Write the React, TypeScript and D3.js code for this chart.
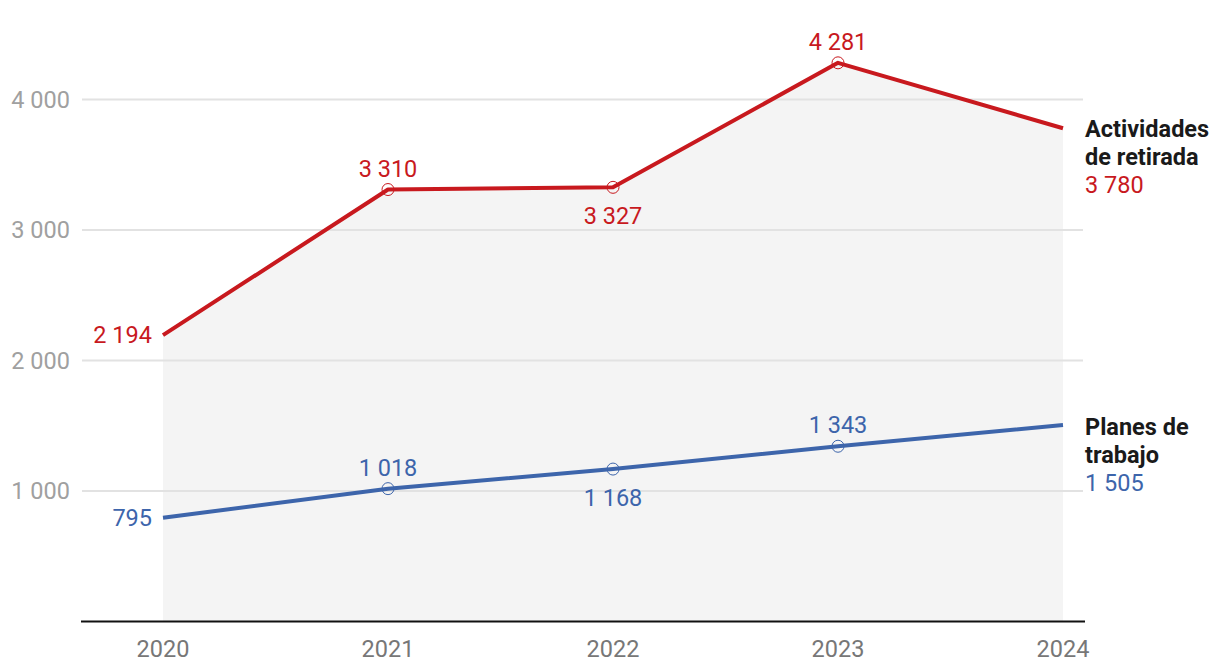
import React from "react";
import * as d3 from "d3";

const years = [2020, 2021, 2022, 2023, 2024];
const retirada = [2194, 3310, 3327, 4281, 3780];
const planes = [795, 1018, 1168, 1343, 1505];
const yTicks = [1000, 2000, 3000, 4000];
// label placement: "left" | "above" | "below" | "none"
const retiradaPos = ["left", "above", "below", "above", "none"];
const planesPos = ["left", "above", "below", "above", "none"];

const RED = "#c8191e";
const BLUE = "#3d65ab";
const FONT = "Roboto, 'Noto Sans', sans-serif";
const FS = 23.5;

const fmt = (v: number) => d3.format(",")(v).replace(/,/g, " ");

export default function App() {
  const W = 1220, H = 672;
  const x = d3.scalePoint<number>().domain(years).range([163, 1063]);
  const y = d3.scaleLinear().domain([0, 4000]).range([621.5, 99.5]);

  const line = d3.line<number>().x((_, i) => x(years[i])!).y((d) => y(d));
  const area = d3
    .area<number>()
    .x((_, i) => x(years[i])!)
    .y0(y(0))
    .y1((d) => y(d));

  const pointLabels = (vals: number[], pos: string[], color: string) =>
    vals.map((v, i) => {
      const px = x(years[i])!;
      const py = y(v);
      const p = pos[i];
      if (p === "none") return null;
      let tx = px, ty = py, anchor = "middle";
      if (p === "left") { tx = px - 11; ty = py + 8; anchor = "end"; }
      else if (p === "above") { ty = py - 13; }
      else if (p === "below") { ty = py + 37; }
      return (
        <text key={i} x={tx} y={ty} textAnchor={anchor} fill={color} fontSize={FS}>
          {fmt(v)}
        </text>
      );
    });

  const markers = (vals: number[], color: string) =>
    vals.map((v, i) =>
      i === 0 || i === vals.length - 1 ? null : (
        <circle key={i} cx={x(years[i])!} cy={y(v)} r={6} fill="none" stroke={color} strokeWidth={1} />
      )
    );

  const endX = 1085;
  const rEnd = y(retirada[retirada.length - 1]);
  const bEnd = y(planes[planes.length - 1]);

  return (
    <svg width={W} height={H} style={{ position: "absolute", left: 0, top: 0, fontFamily: FONT }}>
      <rect width={W} height={H} fill="#fff" />
      <path d={area(retirada)!} fill="#f4f4f4" />
      {yTicks.map((t) => (
        <g key={t}>
          <line x1={82} x2={1083} y1={y(t)} y2={y(t)} stroke="#e2e2e2" strokeWidth={2} />
          <text x={70} y={y(t) + 8} textAnchor="end" fill="#a0a0a0" fontSize={FS}>
            {fmt(t)}
          </text>
        </g>
      ))}
      <line x1={81} x2={1085} y1={y(0)} y2={y(0)} stroke="#111" strokeWidth={2} />
      {years.map((yr) => (
        <text key={yr} x={x(yr)!} y={657} textAnchor="middle" fill="#777" fontSize={FS}>
          {yr}
        </text>
      ))}
      <path d={line(retirada)!} fill="none" stroke={RED} strokeWidth={4} strokeLinejoin="round" />
      <path d={line(planes)!} fill="none" stroke={BLUE} strokeWidth={4} strokeLinejoin="round" />
      {markers(retirada, RED)}
      {markers(planes, BLUE)}
      {pointLabels(retirada, retiradaPos, RED)}
      {pointLabels(planes, planesPos, BLUE)}
      <g fontSize={FS}>
        <text x={endX} y={rEnd + 9} fontWeight="bold" fill="#1a1a1a">Actividades</text>
        <text x={endX} y={rEnd + 37} fontWeight="bold" fill="#1a1a1a">de retirada</text>
        <text x={endX} y={rEnd + 65} fill={RED}>{fmt(retirada[retirada.length - 1])}</text>
        <text x={endX} y={bEnd + 10} fontWeight="bold" fill="#1a1a1a">Planes de</text>
        <text x={endX} y={bEnd + 38} fontWeight="bold" fill="#1a1a1a">trabajo</text>
        <text x={endX} y={bEnd + 66} fill={BLUE}>{fmt(planes[planes.length - 1])}</text>
      </g>
    </svg>
  );
}
